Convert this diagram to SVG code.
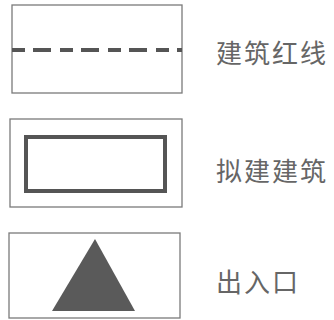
<svg xmlns="http://www.w3.org/2000/svg" width="334" height="320" viewBox="0 0 334 320">
<style>
.frame{fill:#fff;stroke:#7a7a7a;stroke-width:1.3}
.lbl{font-family:"Noto Sans CJK SC","Noto Sans",sans-serif;font-size:26px;fill:#666;letter-spacing:2px}
</style>
<rect width="334" height="320" fill="#fff"/>
<g id="legend-redline">
<rect class="frame" x="12" y="5" width="170" height="88"/>
<line x1="12" y1="50" x2="182" y2="50" stroke="#555" stroke-width="4" stroke-dasharray="13 8 18 9" stroke-dashoffset="0"/>
<text class="lbl" x="216" y="63">建筑红线</text>
</g>
<g id="legend-building">
<rect class="frame" x="10" y="119" width="172" height="88"/>
<rect x="26" y="137" width="139" height="54" fill="none" stroke="#555" stroke-width="4"/>
<text class="lbl" x="216" y="181">拟建建筑</text>
</g>
<g id="legend-entrance">
<rect class="frame" x="9" y="233" width="171" height="85"/>
<polygon points="95,239 52,311 135,311" fill="#5a5a5a"/>
<text class="lbl" x="216" y="292">出入口</text>
</g>
</svg>
